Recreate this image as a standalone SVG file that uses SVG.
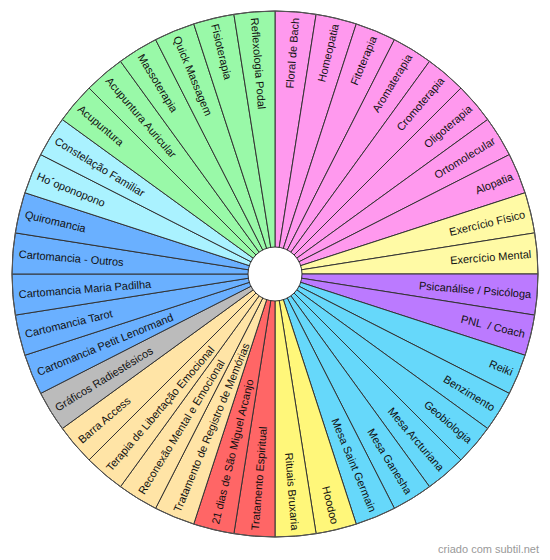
<svg xmlns="http://www.w3.org/2000/svg" width="550" height="560" viewBox="0 0 550 560">
<style>
.w{stroke:#333;stroke-width:1}
.pk{fill:#ff99ee}.ly{fill:#fffaa5}.pu{fill:#bb7aff}.cy{fill:#66d8fa}.ye{fill:#fff77a}.rd{fill:#ff6666}.or{fill:#ffe4a6}.gy{fill:#bbbbbb}.bl{fill:#6ab0ff}.lc{fill:#aaf2ff}.gr{fill:#99f9a8}
.t{font-family:"Liberation Sans",Arial,sans-serif;font-size:11px;fill:#111;dominant-baseline:central}
.r{text-anchor:end}
</style>
<rect width="550" height="560" fill="#fff"/>
<g id="segments">
<g id="s0"><path class="w pk" d="M275,274 L275,11 A263,263 0 0,1 316.14,14.24 Z"/><text class="t r" x="532" y="274" transform="rotate(-85.5 275 274)">Floral de Bach</text></g>
<g id="s1"><path class="w pk" d="M275,274 L316.14,14.24 A263,263 0 0,1 356.27,23.87 Z"/><text class="t r" x="532" y="274" transform="rotate(-76.5 275 274)">Homeopatia</text></g>
<g id="s2"><path class="w pk" d="M275,274 L356.27,23.87 A263,263 0 0,1 394.40,39.67 Z"/><text class="t r" x="532" y="274" transform="rotate(-67.5 275 274)">Fitoterapia</text></g>
<g id="s3"><path class="w pk" d="M275,274 L394.40,39.67 A263,263 0 0,1 429.59,61.23 Z"/><text class="t r" x="532" y="274" transform="rotate(-58.5 275 274)">Aromaterapia</text></g>
<g id="s4"><path class="w pk" d="M275,274 L429.59,61.23 A263,263 0 0,1 460.97,88.03 Z"/><text class="t r" x="532" y="274" transform="rotate(-49.5 275 274)">Cromoterapia</text></g>
<g id="s5"><path class="w pk" d="M275,274 L460.97,88.03 A263,263 0 0,1 487.77,119.41 Z"/><text class="t r" x="532" y="274" transform="rotate(-40.5 275 274)">Oligoterapia</text></g>
<g id="s6"><path class="w pk" d="M275,274 L487.77,119.41 A263,263 0 0,1 509.34,154.60 Z"/><text class="t r" x="532" y="274" transform="rotate(-31.5 275 274)">Ortomolecular</text></g>
<g id="s7"><path class="w pk" d="M275,274 L509.34,154.60 A263,263 0 0,1 525.13,192.73 Z"/><text class="t r" x="532" y="274" transform="rotate(-22.5 275 274)">Alopatia</text></g>
<g id="s8"><path class="w ly" d="M275,274 L525.13,192.73 A263,263 0 0,1 534.76,232.86 Z"/><text class="t r" x="532" y="274" transform="rotate(-13.5 275 274)">Exercício Físico</text></g>
<g id="s9"><path class="w ly" d="M275,274 L534.76,232.86 A263,263 0 0,1 538,274 Z"/><text class="t r" x="532" y="274" transform="rotate(-4.5 275 274)">Exercício Mental</text></g>
<g id="s10"><path class="w pu" d="M275,274 L538,274 A263,263 0 0,1 534.76,315.14 Z"/><text class="t r" x="532" y="274" transform="rotate(4.5 275 274)">Psicanálise / Psicóloga</text></g>
<g id="s11"><path class="w pu" d="M275,274 L534.76,315.14 A263,263 0 0,1 525.13,355.27 Z"/><text class="t r" x="532" y="274" transform="rotate(13.5 275 274)">PNL&#160; / Coach</text></g>
<g id="s12"><path class="w cy" d="M275,274 L525.13,355.27 A263,263 0 0,1 509.34,393.40 Z"/><text class="t r" x="532" y="274" transform="rotate(22.5 275 274)">Reiki</text></g>
<g id="s13"><path class="w cy" d="M275,274 L509.34,393.40 A263,263 0 0,1 487.77,428.59 Z"/><text class="t r" x="532" y="274" transform="rotate(31.5 275 274)">Benzimento</text></g>
<g id="s14"><path class="w cy" d="M275,274 L487.77,428.59 A263,263 0 0,1 460.97,459.97 Z"/><text class="t r" x="532" y="274" transform="rotate(40.5 275 274)">Geobiologia</text></g>
<g id="s15"><path class="w cy" d="M275,274 L460.97,459.97 A263,263 0 0,1 429.59,486.77 Z"/><text class="t r" x="532" y="274" transform="rotate(49.5 275 274)">Mesa Arcturiana</text></g>
<g id="s16"><path class="w cy" d="M275,274 L429.59,486.77 A263,263 0 0,1 394.40,508.34 Z"/><text class="t r" x="532" y="274" transform="rotate(58.5 275 274)">Mesa Ganesha</text></g>
<g id="s17"><path class="w cy" d="M275,274 L394.40,508.34 A263,263 0 0,1 356.27,524.13 Z"/><text class="t r" x="532" y="274" transform="rotate(67.5 275 274)">Mesa Saint Germain</text></g>
<g id="s18"><path class="w ye" d="M275,274 L356.27,524.13 A263,263 0 0,1 316.14,533.76 Z"/><text class="t r" x="532" y="274" transform="rotate(76.5 275 274)">Hoodoo</text></g>
<g id="s19"><path class="w ye" d="M275,274 L316.14,533.76 A263,263 0 0,1 275,537 Z"/><text class="t r" x="532" y="274" transform="rotate(85.5 275 274)">Rituais Bruxaria</text></g>
<g id="s20"><path class="w rd" d="M275,274 L275,537 A263,263 0 0,1 233.86,533.76 Z"/><text class="t" x="18" y="274" transform="rotate(-85.5 275 274)">Tratamento Espiritual</text></g>
<g id="s21"><path class="w rd" d="M275,274 L233.86,533.76 A263,263 0 0,1 193.73,524.13 Z"/><text class="t" x="18" y="274" transform="rotate(-76.5 275 274)">21 dias de São Miguel Arcanjo</text></g>
<g id="s22"><path class="w or" d="M275,274 L193.73,524.13 A263,263 0 0,1 155.60,508.34 Z"/><text class="t" x="18" y="274" transform="rotate(-67.5 275 274)">Tratamento de Registro de Memórias</text></g>
<g id="s23"><path class="w or" d="M275,274 L155.60,508.34 A263,263 0 0,1 120.41,486.77 Z"/><text class="t" x="18" y="274" transform="rotate(-58.5 275 274)">Reconexão Mental e Emocional</text></g>
<g id="s24"><path class="w or" d="M275,274 L120.41,486.77 A263,263 0 0,1 89.03,459.97 Z"/><text class="t" x="18" y="274" transform="rotate(-49.5 275 274)">Terapia de Libertação Emocional</text></g>
<g id="s25"><path class="w or" d="M275,274 L89.03,459.97 A263,263 0 0,1 62.23,428.59 Z"/><text class="t" x="18" y="274" transform="rotate(-40.5 275 274)">Barra Access</text></g>
<g id="s26"><path class="w gy" d="M275,274 L62.23,428.59 A263,263 0 0,1 40.66,393.40 Z"/><text class="t" x="18" y="274" transform="rotate(-31.5 275 274)">Gráficos Radiestésicos</text></g>
<g id="s27"><path class="w bl" d="M275,274 L40.66,393.40 A263,263 0 0,1 24.87,355.27 Z"/><text class="t" x="18" y="274" transform="rotate(-22.5 275 274)">Cartomancia Petit Lenormand</text></g>
<g id="s28"><path class="w bl" d="M275,274 L24.87,355.27 A263,263 0 0,1 15.24,315.14 Z"/><text class="t" x="18" y="274" transform="rotate(-13.5 275 274)">Cartomancia Tarot</text></g>
<g id="s29"><path class="w bl" d="M275,274 L15.24,315.14 A263,263 0 0,1 12,274 Z"/><text class="t" x="18" y="274" transform="rotate(-4.5 275 274)">Cartomancia Maria Padilha</text></g>
<g id="s30"><path class="w bl" d="M275,274 L12,274 A263,263 0 0,1 15.24,232.86 Z"/><text class="t" x="18" y="274" transform="rotate(4.5 275 274)">Cartomancia - Outros</text></g>
<g id="s31"><path class="w bl" d="M275,274 L15.24,232.86 A263,263 0 0,1 24.87,192.73 Z"/><text class="t" x="18" y="274" transform="rotate(13.5 275 274)">Quiromancia</text></g>
<g id="s32"><path class="w lc" d="M275,274 L24.87,192.73 A263,263 0 0,1 40.66,154.60 Z"/><text class="t" x="18" y="274" transform="rotate(22.5 275 274)">Ho´oponopono</text></g>
<g id="s33"><path class="w lc" d="M275,274 L40.66,154.60 A263,263 0 0,1 62.23,119.41 Z"/><text class="t" x="18" y="274" transform="rotate(31.5 275 274)">Constelação Familiar</text></g>
<g id="s34"><path class="w gr" d="M275,274 L62.23,119.41 A263,263 0 0,1 89.03,88.03 Z"/><text class="t" x="18" y="274" transform="rotate(40.5 275 274)">Acupuntura</text></g>
<g id="s35"><path class="w gr" d="M275,274 L89.03,88.03 A263,263 0 0,1 120.41,61.23 Z"/><text class="t" x="18" y="274" transform="rotate(49.5 275 274)">Acupuntura Auricular</text></g>
<g id="s36"><path class="w gr" d="M275,274 L120.41,61.23 A263,263 0 0,1 155.60,39.67 Z"/><text class="t" x="18" y="274" transform="rotate(58.5 275 274)">Massoterapia</text></g>
<g id="s37"><path class="w gr" d="M275,274 L155.60,39.67 A263,263 0 0,1 193.73,23.87 Z"/><text class="t" x="18" y="274" transform="rotate(67.5 275 274)">Quick Massagem</text></g>
<g id="s38"><path class="w gr" d="M275,274 L193.73,23.87 A263,263 0 0,1 233.86,14.24 Z"/><text class="t" x="18" y="274" transform="rotate(76.5 275 274)">Fisioterapia</text></g>
<g id="s39"><path class="w gr" d="M275,274 L233.86,14.24 A263,263 0 0,1 275,11 Z"/><text class="t" x="18" y="274" transform="rotate(85.5 275 274)">Reflexologia Podal</text></g>
</g>
<g id="rims">
<circle cx="275" cy="274" r="263" fill="none" stroke="#555" stroke-width="1"/>
<circle id="hub" cx="275" cy="274" r="27" fill="#fff" stroke="#333" stroke-width="1"/>
</g>
<text x="539" y="553" text-anchor="end" style="font-family:'Liberation Sans',Arial,sans-serif;font-size:11px;fill:#999">criado com subtil.net</text>
</svg>
